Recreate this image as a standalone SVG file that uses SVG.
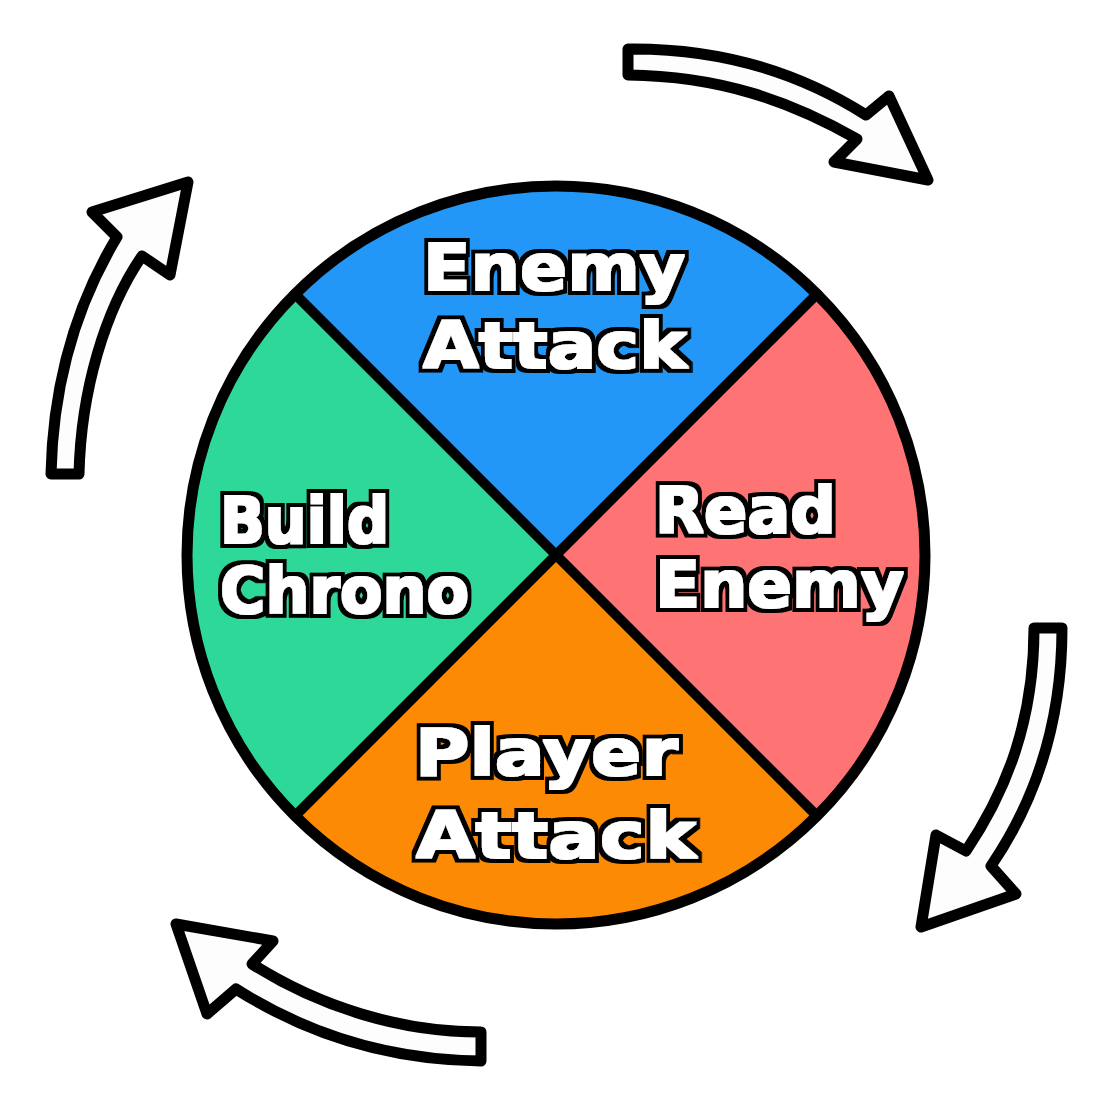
<svg xmlns="http://www.w3.org/2000/svg" width="1108" height="1108" viewBox="0 0 1108 1108">
  <style>
    .wedge { stroke: none; }
    .rim { fill: none; stroke: #000; stroke-width: 11; }
    .divider { stroke: #000; stroke-width: 10; stroke-linecap: round; }
    .arrow { fill: #fdfdfd; stroke: #000; stroke-width: 11; stroke-linejoin: round; }
    .label { font-family: "DejaVu Sans", "Liberation Sans", sans-serif; font-weight: bold; font-size: 64px; fill: #fff; filter: url(#heavy); }
  </style>
  <defs>
    <!-- thickens the white glyphs and rings them with a black outline -->
    <filter id="heavy" x="-10%" y="-25%" width="120%" height="150%">
      <feMorphology in="SourceAlpha" operator="dilate" radius="4.5" result="ring"/>
      <feMorphology in="SourceGraphic" operator="dilate" radius="1.4" result="face"/>
      <feMerge>
        <feMergeNode in="ring"/>
        <feMergeNode in="face"/>
      </feMerge>
    </filter>
  </defs>
  <rect width="1108" height="1108" fill="#fff"/>

  <!-- cycle wheel -->
  <g id="wheel">
    <path class="wedge" fill="#2297f8" d="M556,555 L295.1,294.1 A369,369 0 0 1 816.9,294.1 Z"/>
    <path class="wedge" fill="#fe7373" d="M556,555 L816.9,294.1 A369,369 0 0 1 816.9,815.9 Z"/>
    <path class="wedge" fill="#fd8a04" d="M556,555 L816.9,815.9 A369,369 0 0 1 295.1,815.9 Z"/>
    <path class="wedge" fill="#2ed898" d="M556,555 L295.1,815.9 A369,369 0 0 1 295.1,294.1 Z"/>
    <line class="divider" x1="295.1" y1="294.1" x2="816.9" y2="815.9"/>
    <line class="divider" x1="816.9" y1="294.1" x2="295.1" y2="815.9"/>
    <circle class="rim" cx="556" cy="555" r="369"/>
  </g>

  <g id="enemy-attack">
    <text class="label" x="423" y="290" textLength="262" lengthAdjust="spacingAndGlyphs">Enemy</text>
    <text class="label" x="423" y="368" textLength="264" lengthAdjust="spacingAndGlyphs">Attack</text>
  </g>
  <g id="read-enemy">
    <text class="label" x="655" y="533" textLength="181" lengthAdjust="spacingAndGlyphs">Read</text>
    <text class="label" x="655" y="607" textLength="249" lengthAdjust="spacingAndGlyphs">Enemy</text>
  </g>
  <g id="player-attack">
    <text class="label" x="415" y="775" textLength="263" lengthAdjust="spacingAndGlyphs">Player</text>
    <text class="label" x="416" y="858" textLength="280" lengthAdjust="spacingAndGlyphs">Attack</text>
  </g>
  <g id="build-chrono">
    <text class="label" x="220" y="543" textLength="169" lengthAdjust="spacingAndGlyphs">Build</text>
    <text class="label" x="220" y="613" textLength="249" lengthAdjust="spacingAndGlyphs">Chrono</text>
  </g>

  <!-- clockwise arrows around the wheel -->
  <g id="connectors">
    <path class="arrow" d="M628,49 C720,48 800,73 866,115 L889,96 L928,180 L834,162 L857,139 C790,101 720,76 628,75 Z"/>
    <path class="arrow" d="M1034,628 L1062,628 C1062,720 1036,800 991,866 L1016,894 L921,927 L936,835 L966,851 C1007,790 1034,720 1034,628 Z"/>
    <path class="arrow" d="M481,1032 L481,1061 C390,1060 310,1036 236,989 L207,1014 L176,924 L273,941 L252,964 C320,1007 400,1032 481,1032 Z"/>
    <path class="arrow" d="M51,474 L79,474 C81,390 105,310 142,256 L170,275 L188,182 L92,212 L117,237 C79,300 53,380 51,474 Z"/>
  </g>
</svg>
